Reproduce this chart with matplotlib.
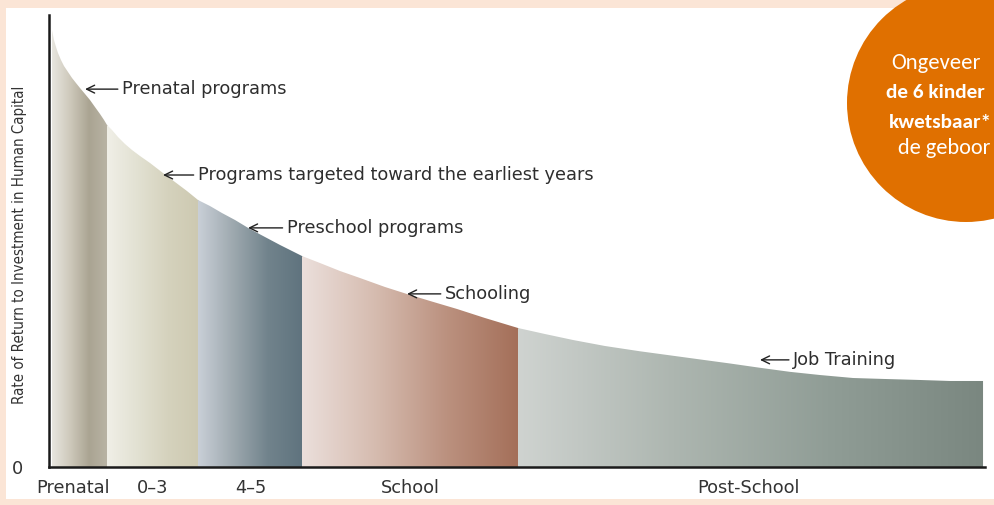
import numpy as np
import matplotlib
matplotlib.use("Agg")
import matplotlib.pyplot as plt
from matplotlib import font_manager as fm
from matplotlib.colors import LinearSegmentedColormap
from matplotlib.patches import Polygon, Rectangle, Circle

# ---------------- data ----------------
# stage positions (arbitrary life-stage scale 0..100) and rate of return (0..100)
curve_x = [0.32, 0.53, 0.75, 0.96, 1.28, 1.60, 2.03, 2.46, 2.88, 3.31, 3.85, 4.38,
           4.91, 5.45, 5.88, 6.20, 6.73, 7.37, 8.12, 8.87, 9.72, 10.79, 12.18,
           13.46, 14.74, 15.92, 17.20, 18.48, 19.87, 21.47, 23.08, 24.68, 27.03,
           28.95, 31.09, 33.23, 35.90, 38.25, 40.71, 43.59, 46.58, 50.11, 52.99,
           55.98, 59.40, 63.14, 66.35, 69.55, 72.76, 75.96, 79.17, 82.37, 85.90,
           89.32, 93.06, 96.26, 99.79]
curve_y = [96.68, 94.47, 92.92, 91.59, 90.04, 88.72, 87.39, 86.06, 84.96, 83.85,
           82.52, 81.19, 79.65, 78.10, 76.77, 75.66, 74.56, 73.01, 71.46, 70.13,
           68.81, 67.26, 65.04, 63.05, 61.06, 59.07, 57.74, 56.19, 54.65, 52.65,
           50.88, 49.12, 46.68, 45.13, 43.36, 41.81, 39.82, 38.27, 36.73, 34.96,
           32.96, 30.75, 29.42, 28.10, 26.77, 25.60, 24.70, 23.80, 22.90, 21.95,
           21.05, 20.35, 19.69, 19.47, 19.25, 19.03, 19.03]

segment_edges = [0.32, 6.20, 15.92, 27.03, 50.11, 99.79]
segment_colors = [
    ["#e8e6df", "#cdc8ba", "#aaa492", "#b9b4a5"],   # Prenatal
    ["#f0efe7", "#e2e1d2", "#d5d2bd", "#cdc9b1"],   # 0-3
    ["#c9cfd7", "#9ea9af", "#71838c", "#5f737e"],   # 4-5
    ["#ebdfdb", "#d6bcb0", "#bb917f", "#a46f59"],   # School
    ["#cfd3d0", "#adb6b0", "#909d96", "#7a8780"],   # Post-School
]

tick_positions = [2.6, 11.1, 21.6, 38.6, 74.7]
tick_labels = ["Prenatal", "0\u20133", "4\u20135", "School", "Post-School"]

ann_labels = ["Prenatal programs", "Programs targeted toward the earliest years",
              "Preschool programs", "Schooling", "Job Training"]
ann_tip_x = [3.85, 12.18, 21.26, 38.25, 75.96]
ann_tip_y = [83.6, 64.6, 52.9, 38.3, 23.7]
ann_text_x = [7.8, 15.9, 25.4, 42.3, 79.5]

ylabel = "Rate of Return to Investment in Human Capital"
circle_lines = ["Ongeveer", "de 6 kinder", "kwetsbaar*", "de geboor"]
circle_bold = [False, True, True, False]

# ---------------- fonts ----------------
def font_path(**kw):
    try:
        return fm.findfont(fm.FontProperties(**kw), fallback_to_default=False)
    except Exception:
        return ""

main_font = "DejaVu Sans"
narrow_kw = dict(family="DejaVu Sans")
narrow_size = 9.6
if font_path(family="Liberation Sans Narrow"):
    narrow_kw, narrow_size = dict(family="Liberation Sans Narrow"), 12.3
elif "Condensed" in font_path(family="DejaVu Sans", stretch="condensed"):
    narrow_kw, narrow_size = dict(family="DejaVu Sans", stretch="condensed"), 10.8
circ_font = "Carlito" if font_path(family="Carlito") else "Lato"

W, H = 994, 505
fig = plt.figure(figsize=(W / 100, H / 100), dpi=100)
fig.patch.set_facecolor("#fbe5d6")

# background panel
bg = fig.add_axes([0, 0, 1, 1], zorder=0)
bg.set_xlim(0, W)
bg.set_ylim(H, 0)
bg.axis("off")
bg.add_patch(Rectangle((6, 8), W - 6, 491, facecolor="white", edgecolor="none"))

# chart axes
ax = fig.add_axes([49 / W, (H - 467) / H, 936 / W, 452 / H], zorder=1)
ax.set_facecolor("none")

verts = [(curve_x[0], 0)] + list(zip(curve_x, curve_y)) + [(curve_x[-1], 0)]
clip = Polygon(verts, closed=True, transform=ax.transData, facecolor="none", edgecolor="none")
ax.add_patch(clip)

grad = np.linspace(0, 1, 256)[None, :]
for i in range(len(segment_colors)):
    x0, x1 = segment_edges[i], segment_edges[i + 1]
    cmap = LinearSegmentedColormap.from_list("seg%d" % i, segment_colors[i])
    im = ax.imshow(grad, extent=[x0 - 0.05, x1 + 0.05, 0, 100], cmap=cmap,
                   aspect="auto", interpolation="bilinear", zorder=1)
    im.set_clip_path(clip)

ax.set_xlim(0, 100)
ax.set_ylim(0, 100)

for s in ["top", "right"]:
    ax.spines[s].set_visible(False)
for s in ["left", "bottom"]:
    ax.spines[s].set_color("#1a1a1a")
    ax.spines[s].set_linewidth(1.8)
    ax.spines[s].set_zorder(3)

ax.set_xticks(tick_positions)
ax.set_xticklabels(tick_labels, fontsize=12.8, color="#333333", family=main_font)
ax.set_yticks([0])
ax.set_yticklabels(["0"], fontsize=12.8, color="#333333", family=main_font)
ax.tick_params(axis="x", length=0, pad=8.5)
ax.tick_params(axis="y", length=0, pad=18.5)

for lab, tx, ty, sx in zip(ann_labels, ann_tip_x, ann_tip_y, ann_text_x):
    ax.annotate(lab, xy=(tx, ty), xytext=(sx, ty), ha="left", va="center",
                fontsize=12.8, color="#2e2e2e", family=main_font, zorder=4,
                arrowprops=dict(arrowstyle="->,head_length=0.45,head_width=0.22",
                                color="#222222", lw=1.0, shrinkA=1, shrinkB=0))

fig.text(20 / W, (H - 245) / H, ylabel, rotation=90, ha="center", va="center",
         fontsize=narrow_size, color="#333333", **narrow_kw)

# overlay circle
ov = fig.add_axes([0, 0, 1, 1], zorder=5)
ov.set_xlim(0, W)
ov.set_ylim(H, 0)
ov.axis("off")
ov.add_patch(Circle((966, 103), 119, facecolor="#e07000", edgecolor="none"))
line_x = [891, 886, 889, 898]
line_y = [63, 92, 122, 148]
line_size = [16.2, 15.3, 15.3, 16.0]
for txt, b, lx, ly, fs in zip(circle_lines, circle_bold, line_x, line_y, line_size):
    ov.text(lx, ly, txt, ha="left", va="center", color="white", fontsize=fs,
            family=circ_font, fontweight="bold" if b else "normal")

fig.savefig("out.png", dpi=100, facecolor=fig.get_facecolor())
